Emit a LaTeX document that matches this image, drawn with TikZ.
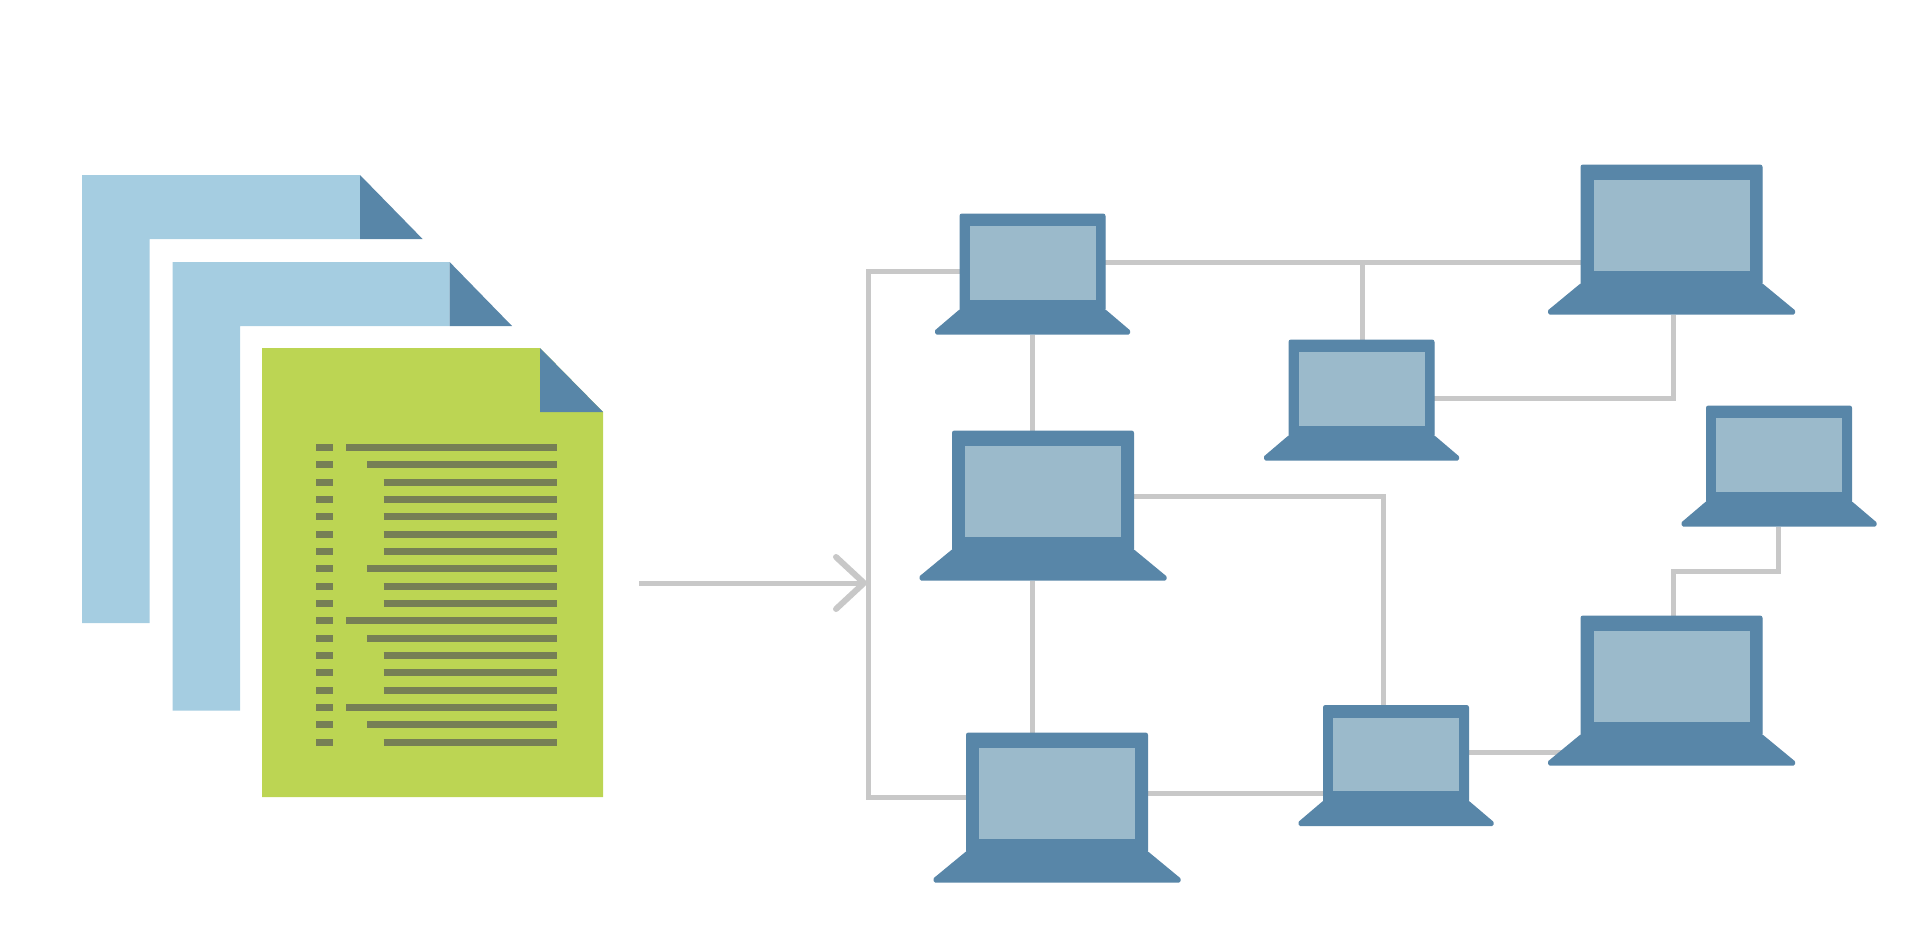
\documentclass[tikz,border=0pt]{standalone}
\usetikzlibrary{backgrounds}
\definecolor{lapblue}{HTML}{5886A8}
\definecolor{lapscreen}{HTML}{9BBACB}
\definecolor{doclight}{HTML}{A5CDE1}
\definecolor{docgreen}{HTML}{BCD553}
\definecolor{docline}{HTML}{767F55}
\definecolor{wire}{HTML}{C8C8C8}
\tikzset{
  lid/.style={fill=lapblue,draw=lapblue,line width=1pt,rounded corners=2pt,inner sep=0pt,outer sep=0pt,anchor=north west},
  screen/.style={fill=lapscreen,inner sep=0pt,outer sep=0pt,anchor=north west},
  basepart/.style={fill=lapblue,draw=lapblue,line width=3pt,line join=round},
  wireline/.style={draw=wire,line width=5pt,line join=miter},
  arrowline/.style={draw=wire,line width=5pt},
  arrowhead/.style={draw=wire,line width=6pt,line cap=round,line join=miter},
  textrow/.style={draw=docline,line width=7pt},
}
% name, x, y, w, inset, top, inner height, flare, bottom
\newcommand\laptopicon[9]{%
  \node[lid,minimum width=#4pt,minimum height=#8pt] (#1) at (#2,#3) {};
  \coordinate (#1-base) at ({#2+#4/2},{#3+#9});
  \node[screen,minimum width={#4-2*#5},minimum height=#7pt] (#1-screen) at ({#2+#5},{#3+#6}) {};
  \laptopbase{#2}{#3}{#4}{#8}{#9}}
% x, y, w, flare, bottom
\newcommand\laptopbase[5]{%
  \ifdim#3pt>160pt \def\lapover{33}\else \def\lapover{25}\fi
  \path[basepart] ({#1},{#2+#4}) -- ({#1-\lapover+1.5},{#2+#5-3.5}) -- ({#1-\lapover+1.5},{#2+#5-1.5}) -- ({#1+#3+\lapover-1.5},{#2+#5-1.5}) -- ({#1+#3+\lapover-1.5},{#2+#5-3.5}) -- ({#1+#3},{#2+#4}) -- cycle;}
\newcommand\lapsmall[3]{\laptopicon{#1}{#2}{#3}{145}{9.5}{12}{73.5}{97}{120.5}}
\newcommand\lapbig[3]{\laptopicon{#1}{#2}{#3}{181}{12.5}{14.5}{91}{120}{149.5}}
\newcommand\docback[7]{%
  \fill[doclight] (#1,#2) -- (#3,#2) -- (#3,#4) -- (#5,#4) -- (#5,#6) -- (#1,#6) -- cycle;
  \fill[lapblue] (#3,#2) -- (#7,#4) -- (#3,#4) -- cycle;}
\begin{document}
\begin{tikzpicture}[x=1pt,y=-1pt]
\useasboundingbox (0,0) rectangle (1930,934);
% documents
\docback{82}{175}{360}{239}{149.5}{623}{422.6}
\docback{172.5}{262}{449.6}{326}{240}{710.5}{512}
\fill[docgreen] (262,348) -- (540,348) -- (603,412) -- (603,797) -- (262,797) -- cycle;
\fill[lapblue] (540,348) -- (603,412) -- (540,412) -- cycle;
\foreach \r/\l in {0/346,1/367,2/383.5,3/383.5,4/383.5,5/383.5,6/383.5,7/367,8/383.5,9/383.5,10/346,11/367,12/383.5,13/383.5,14/383.5,15/346,16/367,17/383.5}{
  \draw[textrow] (316,{447.6+\r*17.32}) -- (332.5,{447.6+\r*17.32});
  \draw[textrow] (\l,{447.6+\r*17.32}) -- (556.5,{447.6+\r*17.32});
}
% laptops
\lapsmall{sa}{960}{214}
\lapbig{lb}{952.5}{431}
\lapbig{lc}{966.5}{733}
\lapsmall{sd}{1289}{340}
\lapbig{le}{1581}{165}
\lapsmall{sf}{1706.5}{406}
\lapbig{lg}{1581}{616}
\lapsmall{sh}{1323.5}{705.5}
% connectors
\coordinate (busTop) at (868.5,271);
\coordinate (busBottom) at (868.5,797);
\coordinate (busMid) at (864,583);
\coordinate (arrowStart) at (639,583);
\coordinate (headUp) at (836,557);
\coordinate (headDown) at (836,609);
\coordinate (tee) at (1362.5,262);
\coordinate (spine) at (1032.5,0);
\coordinate (bendD) at (1673,398);
\coordinate (bendB) at (1383.5,496);
\coordinate (bendF1) at (1778,571.5);
\coordinate (bendF2) at (1673,571.5);
\coordinate (rowH) at (0,793);
\coordinate (rowS) at (0,752);
\begin{scope}[on background layer]
  \draw[wireline] (sa.west |- busTop) -- (busTop) -- (busBottom) -- (lc.west |- busBottom);
  \draw[wireline] (sa.east |- tee) -- (le.west |- tee);
  \draw[wireline] (tee) -- (tee |- sd.north);
  \draw[wireline] (spine |- sa-base) -- (spine |- lb.north);
  \draw[wireline] (spine |- lb-base) -- (spine |- lc.north);
  \draw[wireline] (sd.east |- bendD) -- (bendD) -- (bendD |- le-base);
  \draw[wireline] (lb.east |- bendB) -- (bendB) -- (bendB |- sh.north);
  \draw[wireline] (lc.east |- rowH) -- (sh.west |- rowH);
  \draw[wireline] (sh.east |- rowS) -- (lg.west |- rowS);
  \draw[wireline] (bendF1 |- sf-base) -- (bendF1) -- (bendF2) -- (bendF2 |- lg.north);
\end{scope}
\draw[arrowline] (arrowStart) -- (busMid);
\draw[arrowhead] (headUp) -- (busMid) -- (headDown);
\end{tikzpicture}
\end{document}
